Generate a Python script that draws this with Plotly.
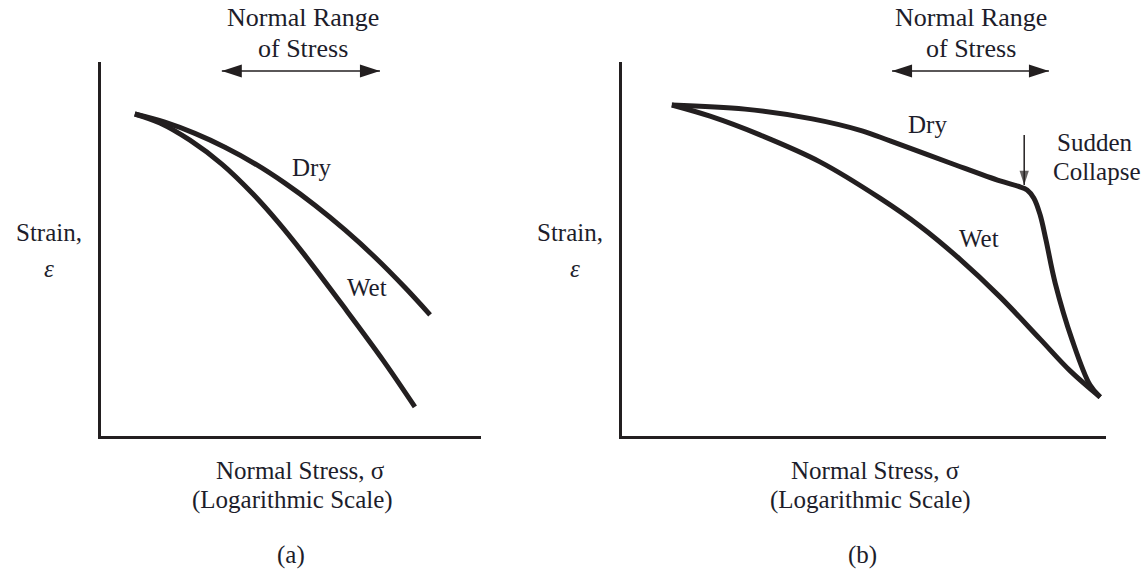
import plotly.graph_objects as go

# ---- data (stress on a log axis, strain), arbitrary units 0-100 ----
# (a) ordinary soil
stress_a_dry = [8.9, 16.8, 24.7, 32.6, 40.5, 48.4, 56.3, 64.2, 72.1, 80.0, 86.6]
strain_a_dry = [86.1, 83.9, 80.9, 77.2, 72.8, 67.6, 61.7, 55.1, 47.8, 39.7, 32.4]
stress_a_wet = [8.9, 15.5, 23.4, 31.8, 40.0, 46.6, 53.2, 63.7, 74.2, 82.6]
strain_a_wet = [86.1, 83.7, 79.1, 72.7, 64.7, 57.2, 48.9, 34.8, 20.3, 7.8]

# (b) collapsible soil
stress_b_dry = [10.3, 25.4, 39.3, 49.6, 55.4, 67.8, 78.1, 81.8, 83.7, 85.1,
                86.4, 87.6, 89.5, 93.0, 96.7, 98.8]
strain_b_dry = [88.5, 87.4, 84.8, 81.6, 78.9, 73.0, 68.2, 66.8, 65.8, 63.6,
                59.1, 52.4, 40.9, 25.7, 13.6, 10.4]
stress_b_wet = [10.3, 18.2, 28.5, 40.9, 53.3, 61.6, 69.8, 78.1, 86.4, 92.6, 98.8]
strain_b_wet = [88.5, 85.5, 80.5, 73.3, 63.6, 56.1, 47.3, 37.2, 25.9, 17.4, 10.4]

# normal range of stress (x limits) and its marker height
normal_range_a = [31.8, 73.4]
normal_range_b = [55.8, 88.2]
range_arrow_y = 97.6

# collapse point marker (x, y from, y to)
collapse_x = 83.1
collapse_y = [80.5, 67.1]

W, H = 1147, 570
INK = "#231f20"
TXT = "#1d1d2b"
FONT = "'Liberation Serif', 'Times New Roman', Times, serif"


def px(x):
    return x / W


def py(y):
    return 1 - y / H


fig = go.Figure()

curve = dict(mode="lines", line=dict(color=INK, width=5, shape="spline", smoothing=1.0),
             hoverinfo="skip", showlegend=False)

fig.add_trace(go.Scatter(x=stress_a_dry, y=strain_a_dry, xaxis="x", yaxis="y", **curve))
fig.add_trace(go.Scatter(x=stress_a_wet, y=strain_a_wet, xaxis="x", yaxis="y", **curve))
fig.add_trace(go.Scatter(x=stress_b_dry, y=strain_b_dry, xaxis="x2", yaxis="y2", **curve))
fig.add_trace(go.Scatter(x=stress_b_wet, y=strain_b_wet, xaxis="x2", yaxis="y2", **curve))

# double-headed "normal range" arrows
for xa, ya, rng in (("x", "y", normal_range_a), ("x2", "y2", normal_range_b)):
    fig.add_trace(go.Scatter(
        x=rng, y=[range_arrow_y, range_arrow_y], xaxis=xa, yaxis=ya,
        mode="lines+markers", cliponaxis=False,
        line=dict(color=INK, width=1.6),
        marker=dict(symbol="arrow", size=21, angle=[-90, 90], color=INK,
                    line=dict(width=0)),
        hoverinfo="skip", showlegend=False))

# sudden collapse arrow
fig.add_trace(go.Scatter(
    x=[collapse_x, collapse_x], y=collapse_y, xaxis="x2", yaxis="y2",
    mode="lines+markers", cliponaxis=False,
    line=dict(color=INK, width=1.5),
    marker=dict(symbol="arrow", size=[0, 15], angle=180, color=INK, line=dict(width=0)),
    hoverinfo="skip", showlegend=False))

axis_common = dict(showline=True, linewidth=3, linecolor=INK, showgrid=False,
                   zeroline=False, ticks="", showticklabels=False, fixedrange=True)
ydom = [py(436), py(62)]

fig.update_layout(
    width=W, height=H,
    margin=dict(l=0, r=0, t=0, b=0),
    paper_bgcolor="white", plot_bgcolor="white",
    font=dict(family=FONT, color=TXT),
    xaxis=dict(domain=[px(101), px(481)], range=[0, 100], anchor="y", **axis_common),
    yaxis=dict(domain=ydom, range=[0, 100], anchor="x", **axis_common),
    xaxis2=dict(domain=[px(622), px(1106)], range=[0, 100], anchor="y2", **axis_common),
    yaxis2=dict(domain=ydom, range=[0, 100], anchor="x2", **axis_common),
)

ann = []


def label(text, x, y, size=25, xref="paper", yref="paper"):
    ann.append(dict(text=text, x=x, y=y, xref=xref, yref=yref, showarrow=False,
                    xanchor="center", yanchor="middle",
                    font=dict(family=FONT, size=size, color=TXT)))


# panel titles above the range arrows
for cx in (303, 971):
    label("Normal Range", px(cx), py(18), size=26)
    label("of Stress", px(cx), py(48), size=26)

# y-axis captions
label("Strain,", px(49), py(233))
label("<i>ε</i>", px(49), py(268))
label("Strain,", px(570), py(233))
label("<i>ε</i>", px(575), py(268))

# x-axis captions
label("Normal Stress, σ", px(300), py(470))
label("(Logarithmic Scale)", px(292), py(500))
label("Normal Stress, σ", px(875), py(470))
label("(Logarithmic Scale)", px(870), py(500))
label("(a)", px(291), py(555))
label("(b)", px(862), py(555))

# curve labels
label("Dry", 55.3, 71.7, xref="x", yref="y")
label("Wet", 70.0, 39.6, xref="x", yref="y")
label("Dry", 63.2, 83.4, xref="x2", yref="y2")
label("Wet", 73.8, 52.9, xref="x2", yref="y2")
label("Sudden", 97.7, 78.6, xref="x2", yref="y2")
label("Collapse", 98.1, 70.6, xref="x2", yref="y2")

fig.update_layout(annotations=ann)

fig.write_html("out.html", config={"displayModeBar": False})
